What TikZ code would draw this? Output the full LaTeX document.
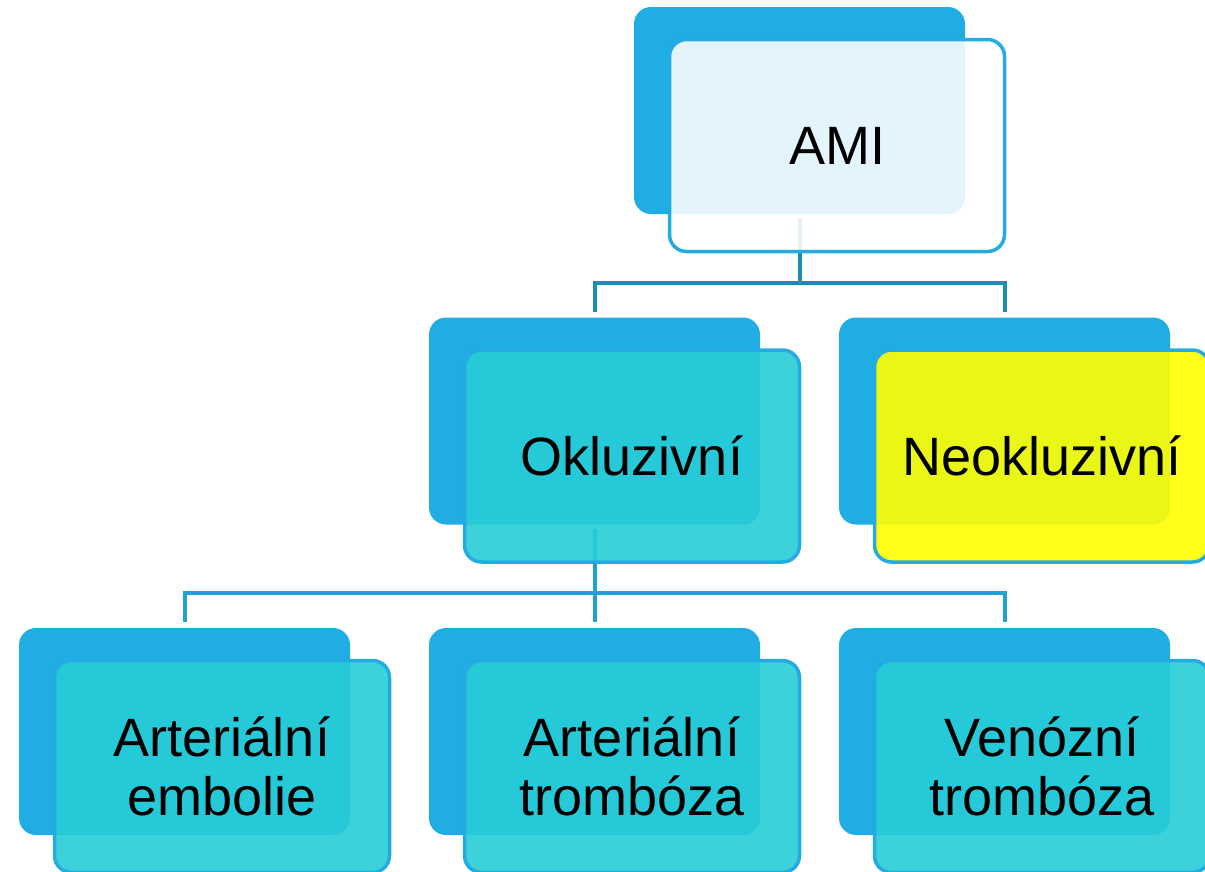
\documentclass[tikz,border=0pt]{standalone}
\usepackage{fontspec}
\setmainfont{Liberation Sans}
\usepackage{xcolor}
\usepackage{tikz}
\usetikzlibrary{positioning}
\definecolor{cBack}{RGB}{31,173,227}
\definecolor{cEdge}{RGB}{36,172,226}
\definecolor{cLinkA}{RGB}{26,140,185}
\definecolor{cLinkB}{RGB}{30,160,215}
\definecolor{cCyan}{RGB}{38,205,214}
\definecolor{cYel}{RGB}{255,255,0}
\tikzset{
  backbox/.style={fill=cBack, rounded corners=17pt, minimum width=331pt,
                  minimum height=207pt, inner sep=0pt},
  frontbox/.style={draw=cEdge, line width=3.5pt, rounded corners=17pt,
                   minimum width=335pt, minimum height=212pt, inner sep=0pt,
                   fill opacity=0.9, text opacity=1, align=center,
                   font=\fontsize{54}{59}\selectfont},
  topbox/.style={frontbox, fill=white, fill opacity=0.88},
  cyanbox/.style={frontbox, fill=cCyan},
  yelbox/.style={frontbox, fill=cYel},
  link/.style={line width=4pt},
}

\begin{document}
\begin{tikzpicture}[x=1pt, y=-1pt]
  \clip (0,0) rectangle (1205,871);
  % back plates
  \node[backbox] (amiB) at (799.5,110.5) {};
  \node[backbox] (oklB) at (594.5,421) {};
  \node[backbox] (neoB) at (1004.5,421) {};
  \node[backbox] (embB) at (184.5,731.5) {};
  \node[backbox] (artB) at (594.5,731.5) {};
  \node[backbox] (venB) at (1004.5,731.5) {};

  % tree lines
  \draw[link, cLinkA] ([yshift=-4pt]amiB.south) -- ++(0,65) -| ([yshift=5pt]oklB.north);
  \draw[link, cLinkA] ([yshift=-4pt]amiB.south) -- ++(0,65) -| ([yshift=5pt]neoB.north);
  \foreach \c in {embB,artB,venB} {
    \draw[link, cLinkB] ([yshift=-4pt]oklB.south) -- ++(0,64) -| ([yshift=6pt]\c.north);
  }

  % front cards
  \node[topbox]  (ami) at ([shift={(37.5,35)}]amiB) {AMI};
  \node[cyanbox] (okl) at ([shift={(37.5,35)}]oklB) {Okluzivní};
  \node[yelbox]  (neo) at ([shift={(37.5,35)}]neoB) {Neokluzivní};
  \node[cyanbox] (emb) at ([shift={(37.5,35)}]embB) {Arteriální\\embolie};
  \node[cyanbox] (art) at ([shift={(37.5,35)}]artB) {Arteriální\\trombóza};
  \node[cyanbox] (ven) at ([shift={(37.5,35)}]venB) {Venózní\\trombóza};
\end{tikzpicture}
\end{document}
